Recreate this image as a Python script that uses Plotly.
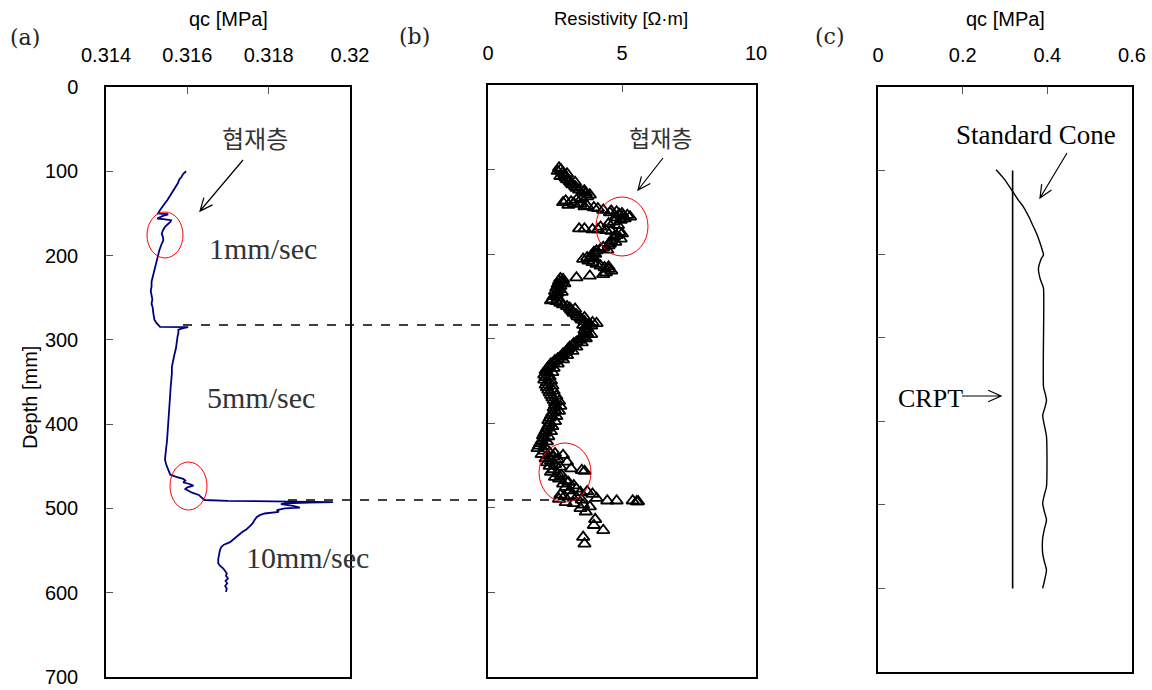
import math
import plotly.graph_objects as go

W, H = 1152, 690
OFF = 0  # body margin is removed by post_script below

# ---------------- data ----------------
# Panel (a): cone penetration qc vs depth
qc_depth = [100, 103, 107, 110, 114, 118, 122, 126, 130, 134, 138, 142, 146, 150, 150.5, 151, 153, 156, 157, 158,
            160, 163, 166, 170, 174, 178, 182, 186, 190, 194, 198, 202, 206, 210, 215, 221, 226, 231, 237, 242,
            247, 252, 257, 262, 267, 272, 276, 280, 284.5,
            285, 286, 288, 292, 296, 300, 305, 310, 318, 325, 332, 340, 348, 356, 364, 372, 380, 390, 400, 410,
            420, 428, 435, 442, 448, 454, 460, 463, 465, 467, 469, 471, 473, 475, 477, 479, 481, 484, 487, 490,
            491, 492, 492.5,
            493, 494, 495, 497, 499, 500, 502, 504, 506, 508, 510, 514, 518, 522, 525, 528, 531, 534, 537, 540,
            543, 546, 550, 555, 560, 565, 568, 571, 574, 577, 580, 583, 586, 589, 592, 595, 599]
qc_value = [0.31597, 0.31590, 0.31585, 0.31580, 0.31577, 0.31572, 0.31568, 0.31562, 0.31557, 0.31551, 0.31545,
            0.31538, 0.31533, 0.31528, 0.31540, 0.31553, 0.31540, 0.31526, 0.31545, 0.31560,
            0.31558, 0.31552, 0.31545, 0.31540, 0.31537, 0.31540, 0.31541, 0.31537, 0.31533, 0.31531, 0.31529,
            0.31527, 0.31525, 0.31523, 0.31520, 0.31516, 0.31514, 0.31512, 0.31512, 0.31510,
            0.31512, 0.31514, 0.31512, 0.31515, 0.31516, 0.31517, 0.31519, 0.31524, 0.31533,
            0.31602, 0.31590, 0.31578, 0.31578, 0.31576, 0.31575, 0.31574, 0.31572, 0.31568, 0.31565, 0.31562,
            0.31562, 0.31560, 0.31559, 0.31558, 0.31557, 0.31556, 0.31555, 0.31553, 0.31552,
            0.31550, 0.31548, 0.31547, 0.31545, 0.31548, 0.31553, 0.31558, 0.31575, 0.31590, 0.31595, 0.31590,
            0.31605, 0.31615, 0.31600, 0.31595, 0.31603, 0.31610, 0.31628, 0.31636, 0.31642,
            0.31700, 0.31850, 0.31958,
            0.31900, 0.31840, 0.31830, 0.31860, 0.31877, 0.31840, 0.31820, 0.31825, 0.31790, 0.31778, 0.31771,
            0.31765, 0.31760, 0.31752, 0.31745, 0.31735, 0.31728, 0.31720, 0.31712, 0.31705,
            0.31690, 0.31683, 0.31680, 0.31678, 0.31676, 0.31676, 0.31680, 0.31688, 0.31692, 0.31697, 0.31695,
            0.31700, 0.31694, 0.31698, 0.31693, 0.31697, 0.31695]

# Panel (b): resistivity vs depth
res_depth = [98, 100, 102, 104, 106, 108, 110, 112, 114, 116, 118, 120, 122, 124, 126, 128, 130, 132, 134, 136,
             137, 138, 139, 140, 141, 142, 143, 144, 145, 146, 148, 149, 150, 151, 152, 153, 154, 155, 156, 157,
             158, 160, 162, 164, 166, 168, 170, 170, 171, 171, 172, 173, 174, 176, 178, 180, 182, 184, 186, 188,
             190, 192, 194, 196, 198, 200, 202, 204, 206, 208, 210, 212, 214, 216, 218, 220, 222, 224, 226, 228,
             229, 230, 232, 234, 236, 238, 240, 242, 244, 246, 248, 250, 252, 254, 256, 258, 260, 262, 264, 266,
             268, 270, 272, 274, 276, 278, 280, 281, 282, 283, 284, 286, 288, 290, 292, 294, 296, 298, 300, 302,
             304, 306, 308, 310, 312, 314, 316, 318, 320, 322, 324, 326, 328, 330, 332, 334, 336, 338, 340, 343,
             346, 349, 352, 355, 358, 361, 364, 367, 370, 373, 376, 379, 382, 385, 388, 391, 394, 397, 400, 403,
             406, 409, 412, 415, 418, 421, 424, 427, 430,
             433, 435, 436, 437, 438, 439, 440, 442, 443, 445, 446, 447, 449, 451, 452, 454, 455, 456, 457, 458,
             460, 462, 464, 466, 468, 470, 472, 474, 476, 478, 480, 481, 482, 484, 485, 486, 487, 488, 489, 490,
             491, 492, 492, 492, 493, 493, 494, 495, 497, 499, 501, 505, 514, 521, 527, 535, 543,
             300, 305, 310, 315, 320, 325, 330, 335, 340, 345, 350, 356, 362, 368, 374, 380, 386, 392, 398, 404,
             410, 416, 422, 428, 105, 115, 125, 195, 205, 215, 235, 245, 255, 265, 275, 285, 295]
res_value = [2.65, 2.72, 2.6, 2.78, 2.85, 2.7, 2.9, 2.95, 3.05, 3.1, 3.15, 3.25, 3.3, 3.4, 3.55, 3.65, 3.8, 3.7, 3.5, 3.3,
             2.9, 3.1, 2.8, 3.2, 3.45, 3.0, 3.7, 3.6, 3.95, 4.1, 4.3, 4.6, 4.8, 4.55, 5.0, 4.9, 5.2, 5.05, 5.3, 4.75,
             5.1, 4.95, 4.7, 4.5, 4.85, 4.2, 3.6, 3.4, 3.9, 4.1, 4.4, 4.6, 4.9, 5.0, 4.8, 4.7, 4.95, 4.6, 4.75, 4.55,
             4.5, 4.3, 4.2, 4.05, 3.95, 4.0, 3.85, 3.7, 3.55, 3.75, 3.9, 4.05, 4.2, 4.35, 4.5, 4.6, 4.4, 4.3, 3.8, 3.3,
             2.7, 2.8, 2.65, 2.75, 2.6, 2.7, 2.55, 2.65, 2.5, 2.6, 2.55, 2.45, 2.6, 2.4, 2.55, 2.7, 2.8, 2.95, 3.05, 3.1,
             3.15, 3.2, 3.3, 3.35, 3.45, 3.5, 3.6, 3.9, 4.05, 3.75, 3.55, 3.65, 3.7, 3.6, 3.65, 3.7, 3.6, 3.55, 3.45, 3.4,
             3.3, 3.2, 3.15, 3.05, 3.0, 2.95, 2.9, 2.8, 2.75, 2.7, 2.6, 2.5, 2.45, 2.35, 2.3, 2.25, 2.2, 2.15, 2.2, 2.1,
             2.15, 2.1, 2.2, 2.15, 2.2, 2.25, 2.3, 2.35, 2.4, 2.45, 2.5, 2.5, 2.45, 2.5, 2.4, 2.35, 2.3, 2.25, 2.3, 2.25,
             2.2, 2.15, 2.1, 2.05, 2.1, 2.0, 1.95, 1.9, 1.85,
             2.1, 2.3, 2.5, 2.0, 2.8, 2.25, 2.45, 2.15, 2.6, 2.35, 2.95, 2.2, 2.5, 2.3, 2.7, 3.1, 2.45, 3.5, 3.6, 2.35,
             2.6, 2.75, 2.5, 2.65, 2.9, 3.0, 2.8, 3.2, 2.9, 3.3, 3.05, 3.7, 3.45, 3.9, 2.7, 3.1, 2.85, 3.3, 4.05, 2.65,
             3.5, 4.45, 4.8, 5.4, 5.55, 5.6, 2.9, 3.2, 3.55, 3.8, 3.45, 3.65, 4.0, 3.95, 4.3, 3.55, 3.6,
             3.65, 3.5, 3.3, 3.15, 2.95, 2.8, 2.6, 2.45, 2.4, 2.3, 2.35, 2.4, 2.45, 2.55, 2.65, 2.7, 2.65, 2.55, 2.5, 2.4,
             2.35, 2.25, 2.2, 2.1, 2.95, 3.25, 3.6, 4.45, 3.95, 4.5, 2.85, 2.75, 2.35, 3.25, 3.6, 3.85, 3.85]

# Panel (c): CRPT vs standard cone
crpt_depth = [100, 600]
crpt_value = [0.318, 0.318]
std_depth = [99, 110, 125, 135, 143, 155, 167, 177, 187, 195, 201, 205, 209, 214, 219, 225, 231, 236, 241, 359,
             367, 375, 384, 393, 405, 418, 478, 488, 498, 508, 518, 529, 540, 558, 568, 578, 589, 600]
std_value = [0.279, 0.298, 0.318, 0.331, 0.343, 0.356, 0.367, 0.376, 0.383, 0.388, 0.391, 0.386, 0.383, 0.380,
             0.379, 0.381, 0.384, 0.388, 0.391, 0.391, 0.395, 0.398, 0.394, 0.389, 0.393, 0.398, 0.398, 0.393,
             0.389, 0.393, 0.398, 0.393, 0.389, 0.389, 0.393, 0.398, 0.394, 0.389]

depth_ticks = [0, 100, 200, 300, 400, 500, 600, 700]
a_ticks = [0.314, 0.316, 0.318, 0.32]
a_ticktext = ["0.314", "0.316", "0.318", "0.32"]
b_ticks = [0, 5, 10]
c_ticks = [0, 0.2, 0.4, 0.6]
c_ticktext = ["0", "0.2", "0.4", "0.6"]

# ---------------- helpers ----------------
def px(x):
    return (x - OFF) / W


def py(y):
    return 1 - (y - OFF) / H


SANS = "Liberation Sans, Arial, sans-serif"
SERIF = "Liberation Serif, Times New Roman, serif"
KR = "Noto Sans CJK KR, sans-serif"

fig = go.Figure()

fig.add_trace(go.Scatter(x=qc_value, y=qc_depth, mode="lines", xaxis="x", yaxis="y",
                         line=dict(color="#00007f", width=1.8), showlegend=False))
fig.add_trace(go.Scatter(x=res_value, y=res_depth, mode="markers", xaxis="x2", yaxis="y2",
                         marker=dict(symbol="triangle-up-open", size=11, color="black",
                                     line=dict(width=1.8, color="black")), showlegend=False))
fig.add_trace(go.Scatter(x=crpt_value, y=crpt_depth, mode="lines", xaxis="x3", yaxis="y3",
                         line=dict(color="black", width=1.6), showlegend=False))
fig.add_trace(go.Scatter(x=std_value, y=std_depth, mode="lines", xaxis="x3", yaxis="y3",
                         line=dict(color="black", width=1.4, shape="spline", smoothing=0.6), showlegend=False))

common_x = dict(side="top", ticks="inside", ticklen=7, tickcolor="#555", showline=True, mirror=True,
                linecolor="black", linewidth=1.5, showgrid=False, zeroline=False, automargin=False,
                tickfont=dict(family=SANS, size=20, color="black"), ticklabelstandoff=15)
common_y = dict(ticks="inside", ticklen=7, tickcolor="#555", showline=True, mirror=True,
                linecolor="black", linewidth=1.5, showgrid=False, zeroline=False, automargin=False,
                range=[700, 0], tickvals=depth_ticks)

fig.update_layout(
    width=W, height=H, margin=dict(l=0, r=0, t=0, b=0, pad=0, autoexpand=False),
    paper_bgcolor="white", plot_bgcolor="white",
    xaxis=dict(domain=[px(106), px(350)], anchor="y", range=[0.314, 0.32], tickvals=a_ticks,
               ticktext=a_ticktext, **common_x),
    yaxis=dict(domain=[py(677), py(87)], anchor="x", showticklabels=True,
               tickfont=dict(family=SANS, size=20, color="black"), ticklabelstandoff=22, **common_y),
    xaxis2=dict(domain=[px(488), px(756)], anchor="y2", range=[0, 10], tickvals=b_ticks, **common_x),
    yaxis2=dict(domain=[py(676.5), py(85)], anchor="x2", showticklabels=False, **common_y),
    xaxis3=dict(domain=[px(878), px(1132)], anchor="y3", range=[0, 0.6], tickvals=c_ticks,
                ticktext=c_ticktext, **common_x),
    yaxis3=dict(domain=[py(672), py(87)], anchor="x3", showticklabels=False, **common_y),
)


def text(x, y, s, family, size, color="black", angle=0):
    fig.add_annotation(x=px(x), y=py(y), xref="paper", yref="paper", text=s, showarrow=False,
                       xanchor="center", yanchor="middle", textangle=angle,
                       font=dict(family=family, size=size, color=color))


text(25, 38, "(a)", "DejaVu Serif, serif", 22, "#222")
text(414, 37, "(b)", "DejaVu Serif, serif", 22, "#222")
text(830, 37, "(c)", "DejaVu Serif, serif", 22, "#222")
text(228, 19, "qc [MPa]", SANS, 20)
text(621, 19, "Resistivity [Ω·m]", SANS, 18.5)
text(1005, 19, "qc [MPa]", SANS, 20)
text(30, 398, "Depth [mm]", SANS, 20, angle=-90)
text(255, 138, "협재층", KR, 24, "#333")
text(660, 137, "협재층", KR, 23, "#333")
text(263, 248, "1mm/sec", SERIF, 30, "#333")
text(261, 397, "5mm/sec", SERIF, 30, "#333")
text(307, 557, "10mm/sec", SERIF, 30, "#333")
text(1036, 135, "Standard Cone", SERIF, 27, "black")
text(930, 398, "CRPT", SERIF, 26, "black")


def arrow(x0, y0, x1, y1, head=14, ang=24):
    dx, dy = x1 - x0, y1 - y0
    L = math.hypot(dx, dy)
    ux, uy = dx / L, dy / L
    pts = []
    for s in (1, -1):
        a = math.radians(ang) * s
        rx = -(ux * math.cos(a) - uy * math.sin(a))
        ry = -(ux * math.sin(a) + uy * math.cos(a))
        pts.append((x1 + head * rx, y1 + head * ry))
    path = (f"M {px(x0)} {py(y0)} L {px(x1)} {py(y1)} "
            f"M {px(pts[0][0])} {py(pts[0][1])} L {px(x1)} {py(y1)} L {px(pts[1][0])} {py(pts[1][1])}")
    fig.add_shape(type="path", path=path, xref="paper", yref="paper",
                  line=dict(color="black", width=1.2))


arrow(243, 160, 200, 211)
arrow(663, 158, 638, 190)
arrow(1067, 153, 1040, 198)
arrow(962, 396, 1001, 396)


def ellipse(x0, x1, y0, y1):
    fig.add_shape(type="circle", xref="paper", yref="paper", x0=px(x0), x1=px(x1), y0=py(y1), y1=py(y0),
                  line=dict(color="red", width=1))


ellipse(147, 183, 212, 258)
ellipse(170, 207, 462, 510)
ellipse(596, 648, 197, 256)
ellipse(539, 591, 443, 502)


def dashed(x0, x1, y):
    fig.add_shape(type="line", xref="paper", yref="paper", x0=px(x0), x1=px(x1), y0=py(y), y1=py(y),
                  line=dict(color="black", width=1.4, dash="dash"))


dashed(183, 580, 325)
dashed(288, 557, 500)

fig.write_html("out.html", config={"displayModeBar": False},
               post_script="document.body.style.margin='0';document.body.style.overflow='hidden';")
